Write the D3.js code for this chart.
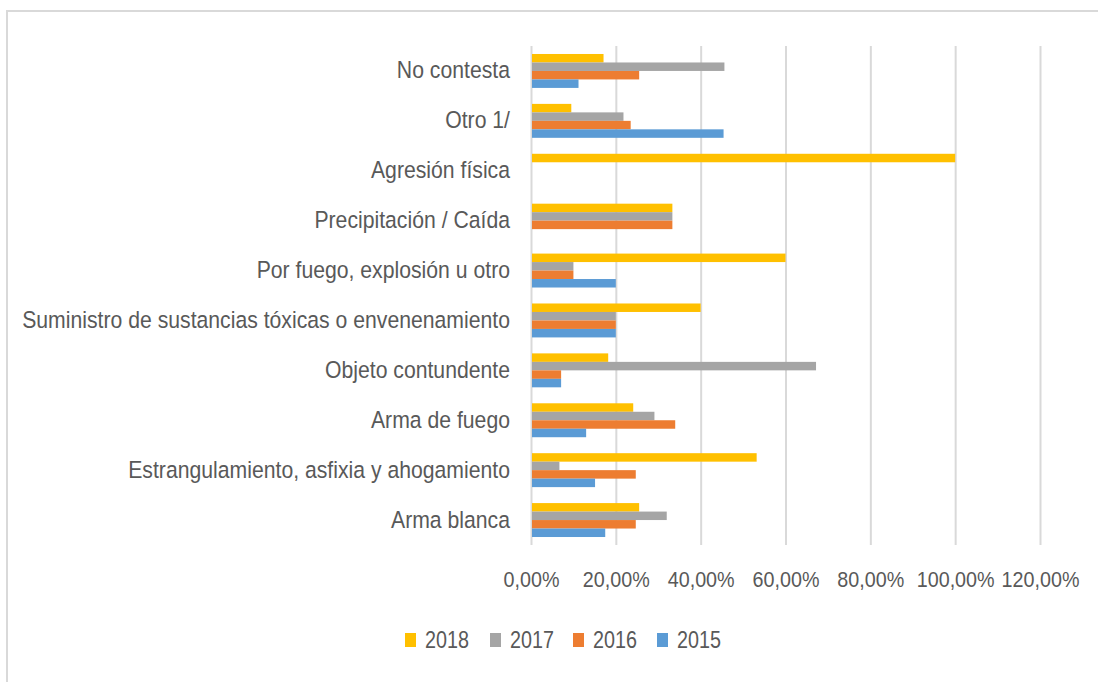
<!DOCTYPE html>
<html>
<head>
<meta charset="utf-8">
<script src="https://cdn.jsdelivr.net/npm/d3@7"></script>
<style>
  html, body { margin: 0; padding: 0; background: #fff; }
  svg { display: block; }
  text { font-family: "Liberation Sans", Arial, sans-serif; fill: #595959; }
</style>
</head>
<body>
<svg id="chart" width="1098" height="682"></svg>
<script>
const categories = [
  "No contesta",
  "Otro 1/",
  "Agresión física",
  "Precipitación / Caída",
  "Por fuego, explosión u otro",
  "Suministro de sustancias tóxicas o envenenamiento",
  "Objeto contundente",
  "Arma de fuego",
  "Estrangulamiento, asfixia y ahogamiento",
  "Arma blanca"
];
const seriesNames = ["2018", "2017", "2016", "2015"];
const values2018 = [0.171, 0.095, 1.000, 0.3333, 0.600, 0.400, 0.182, 0.241, 0.532, 0.255];
const values2017 = [0.456, 0.218, 0, 0.3333, 0.100, 0.200, 0.672, 0.291, 0.067, 0.320];
const values2016 = [0.255, 0.235, 0, 0.3333, 0.100, 0.200, 0.071, 0.340, 0.247, 0.247];
const values2015 = [0.112, 0.454, 0, 0, 0.200, 0.200, 0.071, 0.130, 0.151, 0.175];
const tickValues = [0, 0.2, 0.4, 0.6, 0.8, 1.0, 1.2];
const colors = ["#FFC000", "#A5A5A5", "#ED7D31", "#5B9BD5"];

const seriesValues = [values2018, values2017, values2016, values2015];

const svg = d3.select("#chart");

// squeeze text horizontally about its anchor x so it matches the narrow look of the original
function squeeze(sel, k) {
  sel.each(function () {
    const t = d3.select(this);
    const ax = +t.attr("x") || 0;
    t.attr("transform", `translate(${ax * (1 - k)},0) scale(${k},1)`);
  });
}

// outer frame
svg.append("rect")
  .attr("x", 7).attr("y", 11)
  .attr("width", 1200).attr("height", 800)
  .attr("fill", "none").attr("stroke", "#D9D9D9").attr("stroke-width", 2);

const x = d3.scaleLinear().domain([0, 1.2]).range([531, 1040]);
const y = d3.scaleBand().domain(categories).range([46, 545]).paddingInner(0.32).paddingOuter(0.16);
const ySub = d3.scaleBand().domain(seriesNames).range([0, y.bandwidth()]);

// gridlines
const grid = svg.append("g").attr("transform", "translate(0,545)")
  .call(d3.axisBottom(x).tickValues(tickValues).tickSize(-499).tickFormat(""));
grid.select(".domain").remove();
grid.selectAll(".tick line").attr("stroke", "#D9D9D9").attr("stroke-width", 2);

// bars
seriesNames.forEach((s, si) => {
  svg.append("g").selectAll("rect")
    .data(categories.map((c, i) => ({ c, v: seriesValues[si][i] })))
    .join("rect")
    .attr("x", x(0) + 1)
    .attr("y", d => y(d.c) + ySub(s))
    .attr("width", d => Math.max(0, x(d.v) - x(0) - 1))
    .attr("height", ySub.bandwidth())
    .attr("fill", colors[si]);
});

// x axis labels
const xAxis = svg.append("g").attr("transform", "translate(0,571)")
  .call(d3.axisBottom(x).tickValues(tickValues).tickSize(0).tickPadding(0)
    .tickFormat(d => (d * 100).toFixed(2).replace(".", ",") + "%"));
xAxis.select(".domain").remove();
const xt = xAxis.selectAll("text").attr("font-size", 22).attr("dy", "0.71em")
  .style("font-family", '"Liberation Sans", Arial, sans-serif').attr("fill", "#595959");
const w0 = xt.nodes()[0].getComputedTextLength();
squeeze(xt, 56 / w0);

// y axis labels
const yAxis = svg.append("g").attr("transform", "translate(531,0)")
  .call(d3.axisLeft(y).tickSize(0).tickPadding(21));
yAxis.select(".domain").remove();
const yt = yAxis.selectAll("text").attr("font-size", 23.5)
  .style("font-family", '"Liberation Sans", Arial, sans-serif').attr("fill", "#595959");
const wMax = d3.max(yt.nodes(), n => n.getComputedTextLength());
squeeze(yt, 488 / wMax);

// legend
const legendX = [405, 490, 573, 657];
const legend = svg.append("g");
seriesNames.forEach((s, i) => {
  const g = legend.append("g").attr("transform", `translate(${legendX[i]},633)`);
  g.append("rect").attr("width", 11).attr("height", 14).attr("fill", colors[i]);
  const t = g.append("text").attr("x", 20).attr("y", 7).attr("dy", "0.36em")
    .attr("font-size", 23.5).text(s);
  const w = t.node().getComputedTextLength();
  squeeze(t, 44 / w);
});
</script>
</body>
</html>
